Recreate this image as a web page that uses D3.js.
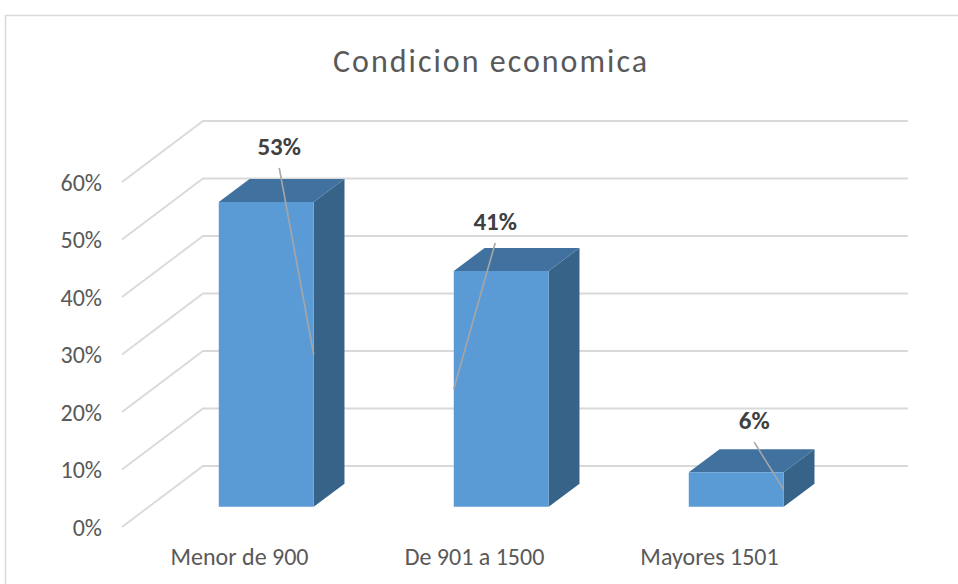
<!DOCTYPE html>
<html>
<head>
<meta charset="utf-8">
<script src="https://cdn.jsdelivr.net/npm/d3@7"></script>
<style>
  body { margin: 0; background: #fff; }
  svg { display: block; }
  text { font-family: Calibri, Carlito, Lato, sans-serif; }
</style>
</head>
<body>
<script>
// data
var categories = ["Menor de 900", "De 901 a 1500", "Mayores 1501"];
var values = [0.53, 0.41, 0.06];
var valueLabels = ["53%", "41%", "6%"];
var yTicks = [0, 0.1, 0.2, 0.3, 0.4, 0.5, 0.6];

// layout
var W = 958, H = 584;
var depthX = 81, depthY = 61;      // full depth of the 3d box
var barD0 = 0.33, barD1 = 0.71;    // bar slab inside the depth
var labelShift = [[13, -24], [-6, -18], [18, -20]];
var leaderSide = [1, 0, 1];        // 1 = right front edge, 0 = left

var svg = d3.select("body").append("svg")
    .attr("width", W)
    .attr("height", H);

svg.append("rect")
    .attr("x", 5.5).attr("y", 15.5)
    .attr("width", 1000).attr("height", 700)
    .attr("fill", "#fff")
    .attr("stroke", "#d9d9d9")
    .attr("stroke-width", 1.5);

svg.append("text")
    .attr("x", 491).attr("y", 72)
    .attr("text-anchor", "middle")
    .attr("fill", "#595959")
    .style("font-size", "32px")
    .style("letter-spacing", "2px")
    .text("Condicion economica");

var x = d3.scaleBand().domain(categories).range([122, 827]).paddingInner(0).paddingOuter(0);
var y = d3.scaleLinear().domain([0, 0.6]).range([527, 182]);

function proj(xf, v, d) {
    return [xf + d * depthX, y(v) - d * depthY];
}

// gridlines: left wall diagonals + back wall
var grid = svg.append("g").attr("stroke", "#d9d9d9").attr("stroke-width", 1.8).attr("fill", "none");
yTicks.forEach(function(t) {
    var a = proj(x.range()[0], t, 0), b = proj(x.range()[0], t, 1), c = proj(x.range()[1], t, 1);
    grid.append("path").attr("d", "M" + a + "L" + b + "L" + c);
});

// y tick labels
svg.append("g").selectAll("text")
    .data(yTicks).enter()
    .append("text")
    .attr("x", 102)
    .attr("y", function(d) { return y(d); })
    .attr("dy", "0.36em")
    .attr("text-anchor", "end")
    .attr("fill", "#595959")
    .style("font-size", "24px")
    .text(d3.format(".0%"));

// category labels
svg.append("g").selectAll("text")
    .data(categories).enter()
    .append("text")
    .attr("x", function(d) { return x(d) + x.bandwidth() / 2; })
    .attr("y", 565)
    .attr("text-anchor", "middle")
    .attr("fill", "#595959")
    .style("font-size", "24px")
    .text(function(d) { return d; });

// bars
var barW = x.bandwidth() * 0.404;
var bars = svg.append("g");
categories.forEach(function(c, i) {
    var cx = x(c) + x.bandwidth() / 2;
    var l = cx - barW / 2, r = cx + barW / 2, v = values[i];
    var p = function(xx, vv, dd) { return proj(xx, vv, dd).join(","); };
    var g = bars.append("g");
    // side
    g.append("path")
        .attr("d", "M" + p(r, 0, barD0) + "L" + p(r, 0, barD1) + "L" + p(r, v, barD1) + "L" + p(r, v, barD0) + "Z")
        .attr("fill", "#386389");
    // top
    g.append("path")
        .attr("d", "M" + p(l, v, barD0) + "L" + p(l, v, barD1) + "L" + p(r, v, barD1) + "L" + p(r, v, barD0) + "Z")
        .attr("fill", "#41729f");
    // front
    g.append("path")
        .attr("d", "M" + p(l, 0, barD0) + "L" + p(r, 0, barD0) + "L" + p(r, v, barD0) + "L" + p(l, v, barD0) + "Z")
        .attr("fill", "#5b9bd5");

    // data label + leader
    var front = proj(cx, v, barD0);
    var topBack = proj(cx, v, barD1);
    var lx = front[0] + labelShift[i][0];
    var ly = topBack[1] + labelShift[i][1];
    var edge = proj(leaderSide[i] ? r : l, v / 2, barD0);
    g.append("line")
        .attr("x1", lx).attr("y1", ly + 13)
        .attr("x2", edge[0]).attr("y2", edge[1])
        .attr("stroke", "#a6a6a6")
        .attr("stroke-width", 1.6);
    g.append("text")
        .attr("x", lx).attr("y", ly)
        .attr("text-anchor", "middle")
        .attr("fill", "#404040")
        .style("font-size", "25px")
        .style("font-weight", "bold")
        .text(valueLabels[i]);
});
</script>
</body>
</html>
